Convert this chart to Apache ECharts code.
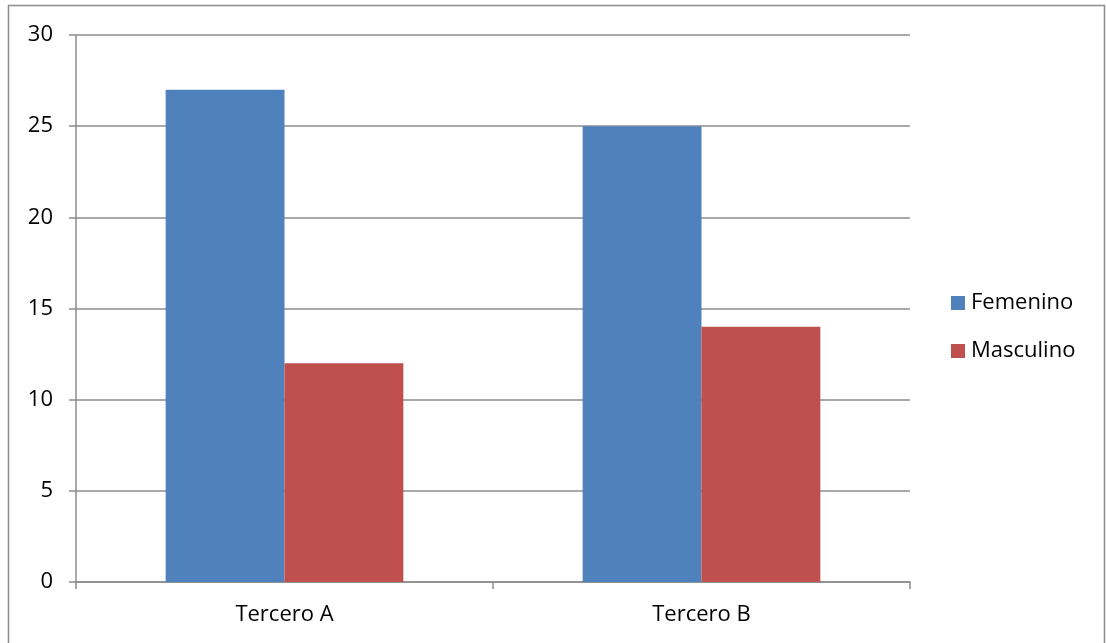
<!DOCTYPE html>
<html><head><meta charset="utf-8">
<script src="https://cdn.jsdelivr.net/npm/echarts@6/dist/echarts.min.js"></script>
<style>html,body{margin:0;padding:0;background:#fff}#c{width:1106px;height:643px}</style>
</head><body><div id="c"></div>
<script>
const categories = ['Tercero A', 'Tercero B'];
const femenino = [27, 25];
const masculino = [12, 14];
const yTicks = [0, 5, 10, 15, 20, 25, 30];

const chart = echarts.init(document.getElementById('c'));
const font = 'Open Sans, Liberation Sans, sans-serif';
const grey = '#8c8c8c';
chart.setOption({
  animation: false,
  textStyle: { fontFamily: font },
  graphic: [{ type: 'rect', shape: { x: 8.5, y: 5.5, width: 1096, height: 700 }, style: { fill: 'none', stroke: grey, lineWidth: 1.5 }, silent: true }],
  grid: { left: 76, right: 196, top: 35, bottom: 61 },
  legend: {
    orient: 'vertical', left: 946, top: 287, itemWidth: 14, itemHeight: 14, itemGap: 26,
    icon: 'rect',
    textStyle: { fontSize: 22, color: '#000', fontFamily: font, padding: [0, 0, 0, 1] },
    data: ['Femenino', 'Masculino']
  },
  xAxis: {
    type: 'category', data: categories,
    axisLine: { lineStyle: { color: grey, width: 1.5 } },
    axisTick: { show: true, length: 7, lineStyle: { color: grey, width: 1.5 } },
    axisLabel: { fontSize: 22, color: '#000', margin: 22, fontFamily: font }
  },
  yAxis: {
    type: 'value', min: yTicks[0], max: yTicks[yTicks.length - 1], interval: 5,
    axisLine: { show: true, lineStyle: { color: grey, width: 1.5 } },
    axisTick: { show: true, length: 7, lineStyle: { color: grey, width: 1.5 } },
    splitLine: { lineStyle: { color: grey, width: 1.5 } },
    axisLabel: { fontSize: 22, color: '#000', margin: 23, fontFamily: font }
  },
  series: [
    { name: 'Femenino', type: 'bar', data: femenino, barGap: '0%', barCategoryGap: '43%', itemStyle: { color: '#4f81bd' } },
    { name: 'Masculino', type: 'bar', data: masculino, barGap: '0%', barCategoryGap: '43%', itemStyle: { color: '#c0504d' } }
  ]
});
</script></body></html>
